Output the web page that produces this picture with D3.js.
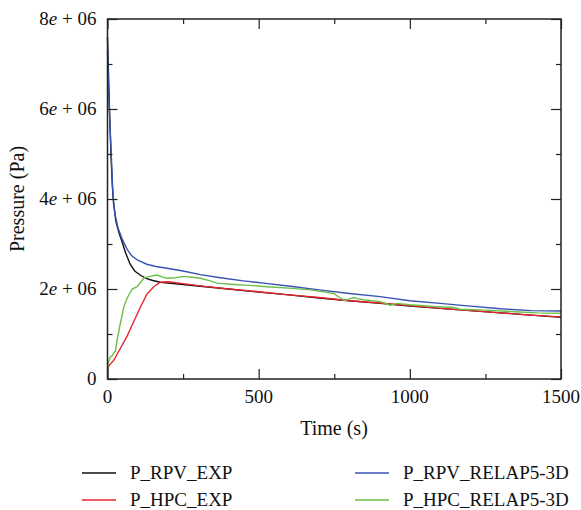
<!DOCTYPE html>
<html lang="en">
<head>
<meta charset="UTF-8">
<title>Pressure vs time</title>
<script src="https://d3js.org/d3.v7.min.js"></script>
<style>
  body { margin: 0; background: #fff; }
  svg text { font-family: "Liberation Serif", "DejaVu Serif", serif; fill: #111; }
</style>
</head>
<body>
<div id="chart"></div>
<script>
// data: [time (s), pressure (Pa)]
var rpvExp = [[0,7.6e6],[4,6.6e6],[8,5.7e6],[12,4.9e6],[16,4.3e6],[20,3.9e6],[28,3.5e6],[38,3.25e6],[48,3.05e6],
  [60,2.8e6],[75,2.55e6],[90,2.4e6],[110,2.3e6],[130,2.23e6],[150,2.19e6],[175,2.15e6],[250,2.1e6],[307,2.06e6],
  [400,2.0e6],[500,1.93e6],[600,1.87e6],[700,1.8e6],[800,1.74e6],[902,1.68e6],[1000,1.62e6],[1100,1.57e6],
  [1200,1.52e6],[1300,1.47e6],[1400,1.42e6],[1500,1.37e6]];
var hpcExp = [[0,0.2e6],[5,0.3e6],[21,0.42e6],[40,0.65e6],[64,0.94e6],[85,1.25e6],[109,1.6e6],[130,1.88e6],
  [153,2.05e6],[175,2.15e6],[200,2.16e6],[250,2.12e6],[307,2.07e6],[373,2.02e6],[500,1.94e6],[600,1.87e6],
  [700,1.81e6],[800,1.74e6],[902,1.69e6],[1000,1.63e6],[1100,1.57e6],[1200,1.52e6],[1300,1.47e6],[1400,1.42e6],[1500,1.38e6]];
var rpvRelap = [[0,7.3e6],[3,6.6e6],[6,6.0e6],[9,5.5e6],[13,4.9e6],[18,4.1e6],[25,3.65e6],[35,3.35e6],[48,3.12e6],
  [65,2.88e6],[80,2.74e6],[100,2.64e6],[130,2.55e6],[160,2.5e6],[197,2.46e6],[250,2.4e6],[307,2.32e6],[373,2.25e6],
  [450,2.18e6],[530,2.12e6],[605,2.06e6],[700,1.98e6],[800,1.9e6],[902,1.83e6],[1000,1.74e6],[1100,1.68e6],
  [1200,1.62e6],[1300,1.56e6],[1400,1.52e6],[1500,1.51e6]];
var hpcRelap = [[0,0.2e6],[2,0.35e6],[10,0.5e6],[16,0.52e6],[21,0.58e6],[26,0.62e6],[32,0.87e6],[40,1.15e6],
  [54,1.6e6],[65,1.8e6],[82,2.0e6],[98,2.05e6],[110,2.15e6],[120,2.24e6],[140,2.28e6],[164,2.31e6],[180,2.27e6],
  [197,2.24e6],[225,2.25e6],[252,2.28e6],[280,2.26e6],[307,2.24e6],[340,2.18e6],[362,2.13e6],[420,2.1e6],
  [470,2.08e6],[528,2.05e6],[600,2.02e6],[670,1.98e6],[720,1.93e6],[748,1.9e6],[770,1.8e6],[786,1.74e6],
  [800,1.78e6],[814,1.81e6],[830,1.78e6],[847,1.76e6],[902,1.72e6],[935,1.64e6],[957,1.68e6],[1000,1.65e6],
  [1080,1.61e6],[1144,1.59e6],[1166,1.55e6],[1250,1.53e6],[1331,1.5e6],[1420,1.47e6],[1500,1.46e6]];

var seriesNames = ["P_RPV_EXP", "P_HPC_EXP", "P_RPV_RELAP5-3D", "P_HPC_RELAP5-3D"];
var seriesData = [rpvExp, hpcExp, rpvRelap, hpcRelap];
var seriesColors = ["#111111", "#e8232b", "#3753b3", "#6cbf48"];

var xTicks = [0, 500, 1000, 1500];
var xMinor = [250, 750, 1250];
var yTicks = [0, 2e6, 4e6, 6e6, 8e6];
var yMinor = [1e6, 3e6, 5e6, 7e6];
var yTickLabels = ["0", "2e + 06", "4e + 06", "6e + 06", "8e + 06"];

// layout
var margin = { top: 19, right: 20, bottom: 131, left: 107.5 },
  width = 561 - 107.5,
  height = 379 - 19;

var svg = d3.select("#chart").append("svg")
  .attr("width", 581)
  .attr("height", 510);

var g = svg.append("g")
  .attr("transform", "translate(" + margin.left + "," + margin.top + ")");

var x = d3.scaleLinear().domain([0, 1500]).range([0, width]);
var y = d3.scaleLinear().domain([0, 8e6]).range([height, 0]);

// series lines
var line = d3.line()
  .x(function(d) { return x(d[0]); })
  .y(function(d) { return y(d[1]); });

seriesData.forEach(function(s, i) {
  g.append("path")
    .datum(s)
    .attr("fill", "none")
    .attr("stroke", seriesColors[i])
    .attr("stroke-width", 1.4)
    .attr("d", line);
});

// inward ticks on all four sides
function tickAxis(axis, vals, size, tr) {
  var a = g.append("g")
    .attr("transform", tr)
    .call(axis.tickValues(vals).tickSizeInner(size).tickSizeOuter(0).tickFormat(""));
  a.select(".domain").remove();
  a.selectAll("line").attr("stroke", "#222").attr("stroke-width", 1.2);
}
tickAxis(d3.axisBottom(x), xTicks, -10, "translate(0," + height + ")");
tickAxis(d3.axisBottom(x), xMinor, -5, "translate(0," + height + ")");
tickAxis(d3.axisTop(x), xTicks, -10, "translate(0,0)");
tickAxis(d3.axisTop(x), xMinor, -5, "translate(0,0)");
tickAxis(d3.axisLeft(y), yTicks, -10, "translate(0,0)");
tickAxis(d3.axisLeft(y), yMinor, -5, "translate(0,0)");
tickAxis(d3.axisRight(y), yTicks, -10, "translate(" + width + ",0)");
tickAxis(d3.axisRight(y), yMinor, -5, "translate(" + width + ",0)");

// frame
g.append("rect")
  .attr("width", width)
  .attr("height", height)
  .attr("fill", "none")
  .attr("stroke", "#222")
  .attr("stroke-width", 1.5);

// tick labels
g.selectAll(".xlab")
  .data(xTicks)
  .enter().append("text")
  .attr("x", function(d) { return x(d); })
  .attr("y", height + 24)
  .attr("text-anchor", "middle")
  .style("font-size", "19px")
  .text(function(d) { return d; });

var yl = g.selectAll(".ylab")
  .data(yTicks)
  .enter().append("text")
  .attr("x", -11)
  .attr("y", function(d) { return y(d) + 6; })
  .attr("text-anchor", "end")
  .style("font-size", "19px");
yl.each(function(d, i) {
  var t = d3.select(this);
  var lab = yTickLabels[i];
  if (lab.indexOf("e") < 0) { t.text(lab); return; }
  var parts = lab.split("e");
  t.append("tspan").text(parts[0]);
  t.append("tspan").style("font-style", "italic").text("e");
  t.append("tspan").text(parts[1]);
});

// axis titles
svg.append("text")
  .attr("x", 334)
  .attr("y", 435)
  .attr("text-anchor", "middle")
  .style("font-size", "20px")
  .text("Time (s)");

svg.append("text")
  .attr("transform", "translate(24,199) rotate(-90)")
  .attr("text-anchor", "middle")
  .style("font-size", "20px")
  .text("Pressure (Pa)");

// legend
var legendPos = [[82, 473], [82, 500], [355, 473], [355, 500]];
var legend = svg.selectAll(".legend")
  .data(seriesNames)
  .enter().append("g")
  .attr("transform", function(d, i) { return "translate(" + legendPos[i][0] + "," + legendPos[i][1] + ")"; });

legend.append("line")
  .attr("x1", 0).attr("x2", 34)
  .attr("stroke", function(d, i) { return seriesColors[i]; })
  .attr("stroke-width", 1.4);

legend.append("text")
  .attr("x", 48)
  .attr("y", 6)
  .style("font-size", "19px")
  .text(function(d) { return d; });
</script>
</body>
</html>
